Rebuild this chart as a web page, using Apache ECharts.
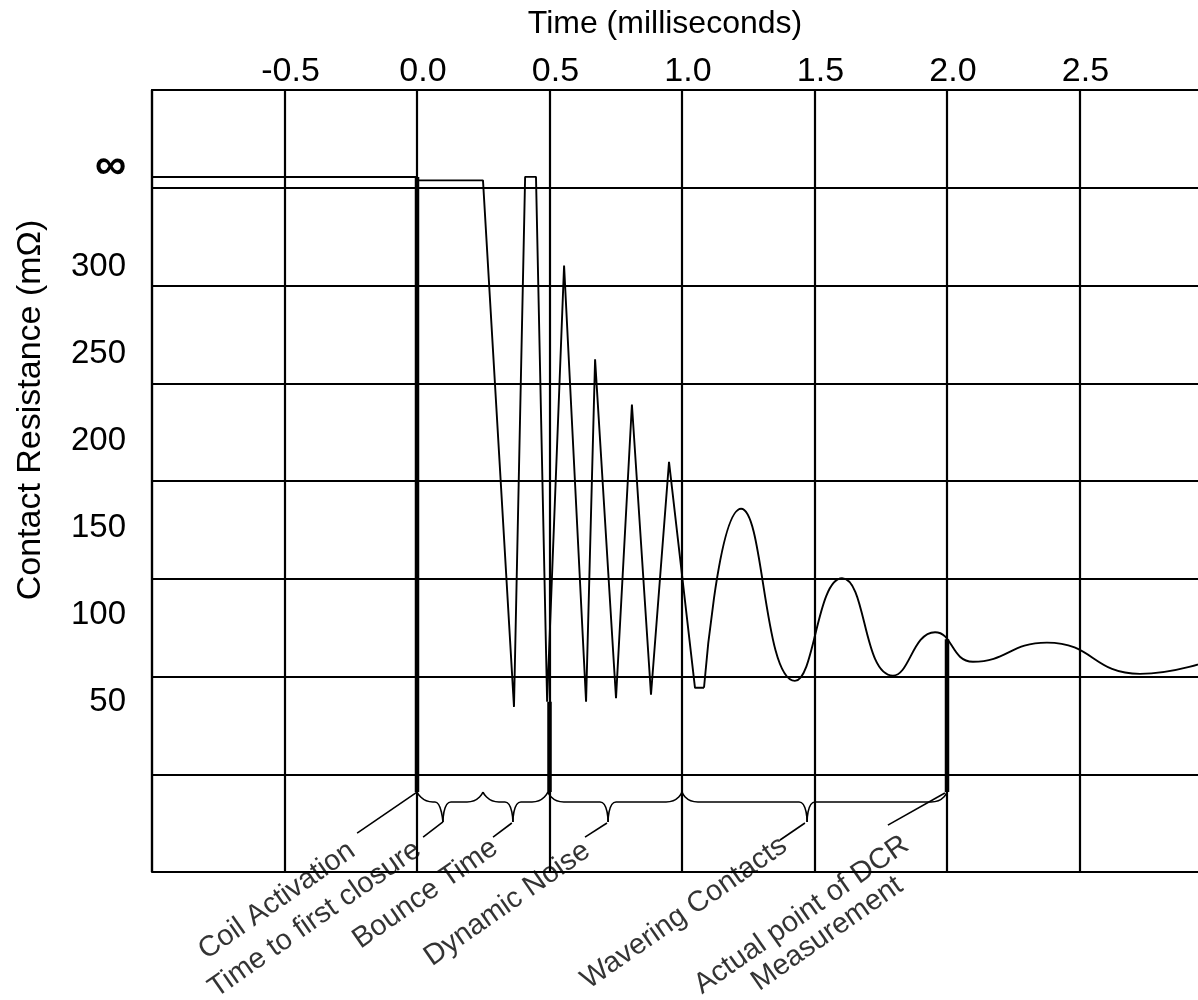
<!DOCTYPE html>
<html>
<head>
<meta charset="utf-8">
<title>Contact Resistance vs Time</title>
<script src="https://cdn.jsdelivr.net/npm/echarts@6/dist/echarts.min.js"></script>
<style>
  html, body { margin: 0; padding: 0; background: #fff; }
  #chart { width: 1198px; height: 1000px; }
</style>
</head>
<body>
<div id="chart"></div>
<script>
// Tick labels
const timeTicks = [-0.5, 0.0, 0.5, 1.0, 1.5, 2.0, 2.5];
const resistanceTicks = [50, 100, 150, 200, 250, 300];
const INFINITY_LEVEL = 358;

// Open contact before coil activation (ms, mOhm)
const openLine = [[-1.0, 352], [0.0, 352]];

// Bounce section, straight segments
const bounceCurve = [
  [0.0, 350], [0.249, 350], [0.366, 47], [0.408, 352], [0.449, 352],
  [0.491, 50], [0.555, 301], [0.638, 50], [0.672, 247], [0.751, 52],
  [0.811, 221], [0.883, 54], [0.951, 188], [1.049, 58], [1.083, 58]
];

// Settling section, smooth
const settleCurve = [
  [1.083, 58], [1.223, 161], [1.426, 62],
  [1.604, 121], [1.796, 65], [1.955, 90], [2.098, 73], [2.377, 84],
  [2.728, 66], [3.0, 74]
];

// Heavy vertical markers
const markerLines = [
  [[0.0, 352], [0.0, -2]],
  [[0.5, 50], [0.5, -2]],
  [[2.0, 86], [2.0, -2]]
];

// Braces under the trace: [start, cusp, end] in ms
const braces = [
  [0.0, 0.098, 0.249],
  [0.249, 0.362, 0.494],
  [0.494, 0.721, 1.0],
  [1.0, 1.472, 2.0]
];
const BRACE_TOP = -2, BRACE_MID = -7.7, BRACE_TIP = -19.2;

// Annotation texts, the end point of each text, and their leader lines
const annotationNames = [
  'Coil Activation', 'Time to first closure', 'Bounce Time', 'Dynamic Noise',
  'Wavering Contacts', 'Actual point of DCR', 'Measurement'
];
const annotationAnchors = [
  [-0.245, -34.2], [0.004, -33.6], [0.294, -32.5], [0.642, -34.2],
  [1.385, -31.3], [1.845, -30.7], [1.822, -54.3]
];
const leaderLines = [
  [[-0.226, -25.6], [0.0, -2.0]],
  [[0.023, -27.9], [0.098, -19.2]],
  [[0.287, -27.9], [0.358, -19.8]],
  [[0.634, -27.9], [0.717, -19.8]],
  [[1.370, -29.6], [1.464, -19.8]],
  [[1.777, -21.0], [1.992, -2.5]]
];

const FONT = "'Liberation Sans', Arial, sans-serif";

function lineSeries(data, width, smooth) {
  return {
    type: 'line',
    xAxisIndex: 0,
    yAxisIndex: 1,
    data: data,
    smooth: smooth || false,
    symbol: 'none',
    silent: true,
    lineStyle: { color: '#000', width: width },
    z: 5
  };
}

// Each brace is drawn as two smooth halves meeting at a sharp cusp
function braceHalves(b) {
  const a = 0.06, d = 0.03;
  const [x0, xc, x1] = b;
  return [
    [[x0, BRACE_TOP], [x0 + a, BRACE_MID], [xc - d, BRACE_MID], [xc, BRACE_TIP]],
    [[xc, BRACE_TIP], [xc + d, BRACE_MID], [x1 - a, BRACE_MID], [x1, BRACE_TOP]]
  ];
}

const series = [];
series.push(lineSeries(openLine, 2));
series.push(lineSeries(bounceCurve, 1.9));
series.push(lineSeries(settleCurve, 1.9, 0.5));
markerLines.forEach((m) => series.push(lineSeries(m, 4.5)));
braces.forEach((b) => braceHalves(b).forEach((h) => series.push(lineSeries(h, 1.6, 0.7))));
leaderLines.forEach((l) => series.push(lineSeries(l, 1.6)));
series.push({
  type: 'scatter',
  xAxisIndex: 0,
  yAxisIndex: 1,
  clip: false,
  symbolSize: 0,
  silent: true,
  data: annotationAnchors.map((p, i) => ({ name: annotationNames[i], value: p })),
  label: {
    show: true,
    position: 'inside',
    formatter: (p) => p.name,
    align: 'right',
    verticalAlign: 'middle',
    rotate: 35,
    color: '#000',
    fontFamily: FONT,
    fontSize: 29
  }
});

const chart = echarts.init(document.getElementById('chart'), null, { renderer: 'canvas' });
chart.setOption({
  animation: false,
  backgroundColor: '#fff',
  grid: { left: 152, top: 90, width: 1060, height: 782, outerBoundsMode: 'none', containLabel: false },
  xAxis: {
    type: 'value',
    position: 'top',
    min: -1,
    max: 3,
    interval: 0.5,
    name: 'Time (milliseconds)',
    nameLocation: 'middle',
    nameGap: 50,
    nameTextStyle: { color: '#000', fontFamily: FONT, fontSize: 32, padding: [0, 34, 0, 0] },
    axisLine: { show: true, onZero: false, lineStyle: { color: '#000', width: 2.2 } },
    axisTick: { show: false },
    axisLabel: {
      customValues: timeTicks,
      formatter: (v) => v.toFixed(1),
      color: '#000',
      fontFamily: FONT,
      fontSize: 34,
      margin: 1,
      padding: [0, 0, 0, 12]
    },
    splitLine: { show: true, lineStyle: { color: '#000', width: 2.2 } }
  },
  yAxis: [
    {
      // grid lines only
      type: 'value',
      position: 'left',
      min: 0,
      max: 8,
      interval: 1,
      axisLine: { show: true, onZero: false, lineStyle: { color: '#000', width: 2.2 } },
      axisTick: { show: false },
      axisLabel: { show: false },
      splitLine: { show: true, lineStyle: { color: '#000', width: 2.2 } }
    },
    {
      // resistance scale used by the trace
      type: 'value',
      position: 'left',
      min: -48,
      max: 402,
      name: 'Contact Resistance (m\u03A9)',
      nameLocation: 'middle',
      nameRotate: 90,
      nameGap: 104,
      nameTextStyle: { color: '#000', fontFamily: FONT, fontSize: 34, padding: [0, 0, 0, 142] },
      axisLine: { show: false, onZero: false },
      axisTick: { show: false },
      splitLine: { show: false },
      axisLabel: {
        customValues: resistanceTicks.concat([INFINITY_LEVEL]),
        formatter: (v) => (v === INFINITY_LEVEL ? '{inf|\u221E}' : String(v)),
        color: '#000',
        fontFamily: FONT,
        fontSize: 33,
        margin: 26,
        rich: { inf: { fontSize: 44, fontWeight: 'bold', color: '#000', fontFamily: FONT } }
      }
    }
  ],
  series: series
});
</script>
</body>
</html>
